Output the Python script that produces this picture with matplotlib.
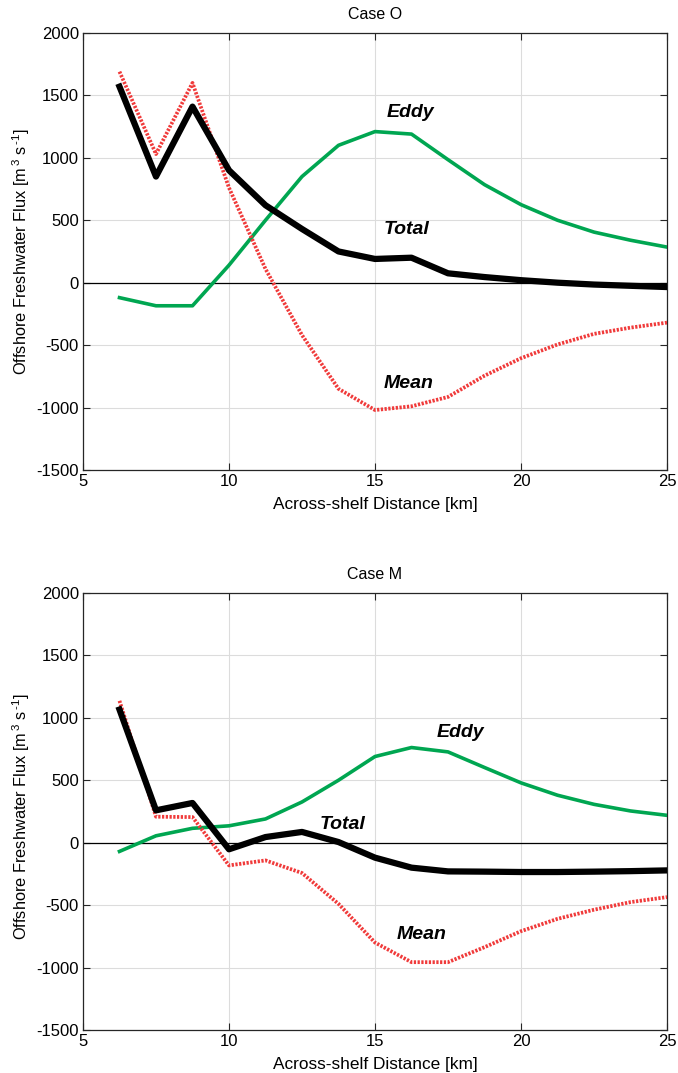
import matplotlib
matplotlib.use("Agg")
import matplotlib.pyplot as plt

plt.rcParams['font.family'] = ['Liberation Sans', 'DejaVu Sans']
plt.rcParams['axes.unicode_minus'] = False
plt.rcParams['mathtext.fontset'] = 'custom'
plt.rcParams['mathtext.rm'] = 'Liberation Sans'
plt.rcParams['mathtext.it'] = 'Liberation Sans:italic'
plt.rcParams['mathtext.bf'] = 'Liberation Sans:bold'

distance_km = [6.25, 7.5, 8.75, 10, 11.25, 12.5, 13.75, 15, 16.25, 17.5, 18.75, 20, 21.25, 22.5, 23.75, 25]

# Case O
total_O = [1570, 850, 1410, 900, 620, 430, 250, 190, 200, 75, 45, 20, 0, -15, -25, -35]
mean_O = [1690, 1030, 1600, 760, 110, -420, -850, -1020, -990, -915, -745, -605, -495, -410, -360, -320]
eddy_O = [-120, -185, -185, 140, 500, 850, 1100, 1210, 1190, 985, 785, 625, 500, 405, 340, 285]

# Case M
total_M = [1066, 259, 318, -53, 45, 86, 5, -120, -200, -230, -232, -235, -235, -232, -228, -222]
mean_M = [1136, 208, 205, -182, -142, -243, -490, -800, -957, -957, -837, -709, -610, -537, -476, -436]
eddy_M = [-70, 55, 115, 135, 190, 326, 500, 690, 762, 727, 602, 479, 380, 307, 254, 219]

titles = ["Case O", "Case M"]
xticks = [5, 10, 15, 20, 25]
yticks = [-1500, -1000, -500, 0, 500, 1000, 1500, 2000]

# label positions (data coords)
labels_pos = [
    {"Eddy": (15.4, 1360), "Total": (15.3, 425), "Mean": (15.3, -810)},
    {"Eddy": (17.1, 880), "Total": (13.1, 145), "Mean": (15.75, -737)},
]

fig = plt.figure(figsize=(6.78, 10.73), dpi=100)
ax_rects = [[0.1224, 0.5620, 0.8614, 0.4073], [0.1224, 0.0401, 0.8614, 0.4073]]
ylabel_y = [0.5, 0.487]

datasets = [(total_O, mean_O, eddy_O), (total_M, mean_M, eddy_M)]

for rect, title, (tot, mn, ed), lp, yly in zip(ax_rects, titles, datasets, labels_pos, ylabel_y):
    ax = fig.add_axes(rect)
    ax.axhline(0, color='black', lw=0.9, zorder=2)
    ax.plot(distance_km, ed, color='#00a651', lw=2.6, zorder=3)
    ax.plot(distance_km, mn, color='#f03a3a', lw=2.7, ls=(0, (0.6, 0.4)), zorder=4)
    ax.plot(distance_km, tot, color='black', lw=4.5, zorder=5)
    ax.set_xlim(5, 25)
    ax.set_ylim(-1500, 2000)
    ax.set_xticks(xticks)
    ax.set_yticks(yticks)
    ax.grid(True, color='#dcdcdc', lw=0.8)
    ax.set_axisbelow(True)
    ax.tick_params(direction='in', top=True, right=True, labelsize=12, length=5, width=0.8,
                   colors='#262626', labelcolor='black', pad=3)
    for s in ax.spines.values():
        s.set_color('#262626')
        s.set_linewidth(0.9)
    ax.set_title(title, fontsize=11.5, pad=10)
    ax.set_xlabel("Across-shelf Distance [km]", fontsize=12.4, labelpad=6)
    ax.set_ylabel(r"Offshore Freshwater Flux [m$^{\,3}$ s$^{\,\text{-1}}$]", fontsize=11.8)
    ax.yaxis.set_label_coords(-0.088, yly)
    for name, (x, y) in lp.items():
        ax.text(x, y, name, fontsize=14, fontweight='bold', fontstyle='italic', ha='left', va='center')

fig.savefig("out.png", dpi=100)
